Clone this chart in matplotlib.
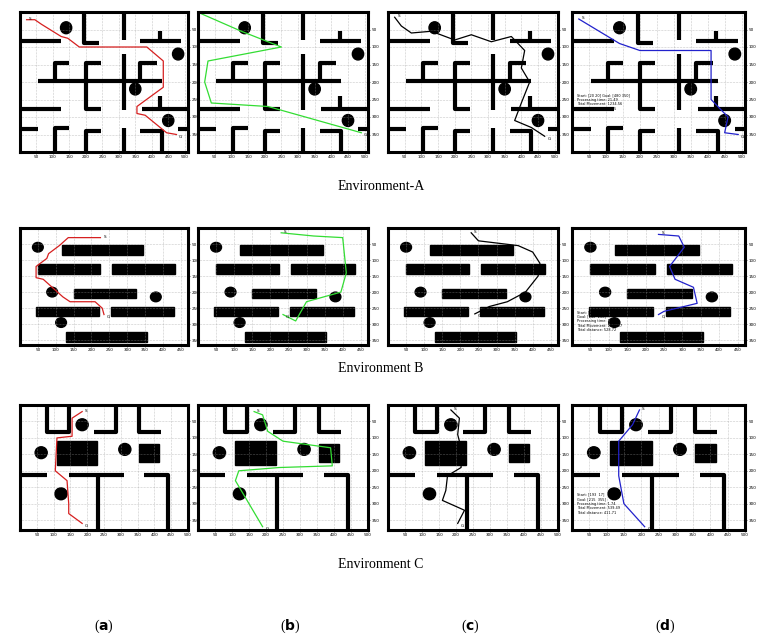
import matplotlib.pyplot as plt
from matplotlib.patches import Circle, Rectangle

# ---- Environment A (maze) ----
walls_a = [
    [(195, 0), (195, 88), (240, 88)], [(315, 0), (315, 80)], [(0, 82), (125, 82)],
    [(425, 55), (425, 84)], [(365, 84), (490, 84)], [(55, 198), (430, 198)],
    [(105, 198), (105, 146), (150, 146)], [(245, 146), (200, 146), (200, 276), (245, 276)],
    [(315, 120), (315, 280)], [(415, 146), (365, 146), (365, 198)],
    [(0, 276), (125, 276)], [(370, 276), (510, 276)], [(425, 240), (425, 276)],
    [(0, 334), (55, 334)], [(105, 400), (105, 330), (150, 330)],
    [(200, 400), (200, 340), (245, 340)], [(315, 330), (315, 400)],
    [(365, 340), (430, 340), (430, 400)], [(480, 334), (510, 334)],
]
circles_a = [(140, 45), (480, 120), (350, 220), (450, 310)]
path_a_a = [(20, 22), (45, 22), (65, 35), (125, 70), (145, 75), (180, 100), (385, 100), (435, 140),
            (435, 215), (355, 270), (355, 290), (380, 295), (445, 345), (475, 350)]
path_a_b = [(10, 5), (130, 55), (250, 100), (30, 140), (20, 200), (40, 260), (210, 270), (490, 345)]
path_a_c = [(20, 15), (40, 40), (70, 60), (130, 55), (200, 80), (250, 65), (310, 85), (370, 70), (410, 110),
            (400, 160), (425, 200), (400, 260), (380, 310), (430, 330), (470, 355)]
path_a_d = [(20, 20), (140, 90), (200, 110), (410, 110), (410, 250), (460, 300), (450, 345), (490, 350)]
info_a = 'Start: [20 20] Goal: [480 350]\nProcessing time: 21.49\nTotal Movement: 1234.56\nTotal distance: 557.25'

# ---- Environment B (bars) ----
rects_b = [(117, 53, 228, 30), (50, 113, 175, 30), (258, 113, 177, 30), (150, 189, 175, 30),
           (45, 246, 175, 30), (255, 246, 175, 30), (130, 325, 225, 30)]
circles_b = [(50, 60), (90, 200), (380, 215), (115, 295)]
path_b_a = [(225, 30), (135, 30), (110, 55), (80, 80), (75, 95), (45, 120), (45, 155), (65, 160), (90, 185),
            (120, 215), (140, 230), (210, 230), (230, 250), (235, 270)]
path_b_b = [(230, 15), (320, 25), (400, 30), (410, 140), (395, 200), (300, 230), (270, 290), (235, 270)]
path_b_c = [(230, 15), (250, 40), (360, 55), (400, 75), (420, 110), (415, 150), (380, 200), (330, 230),
            (280, 245), (240, 268)]
path_b_d = [(235, 20), (290, 25), (305, 60), (265, 120), (280, 160), (330, 185), (340, 235), (250, 260), (235, 270)]
info_b = 'Start: [262  25]\nGoal: [242  266]\nProcessing time: 5.28\nTotal Movement: 1781.67\nTotal distance: 528.72'

# ---- Environment C (rooms) ----
walls_c = [
    [(80, 0), (80, 83), (145, 83), (145, 0)], [(220, 83), (285, 83), (285, 0)],
    [(355, 0), (355, 83), (420, 83)], [(0, 214), (80, 214)], [(145, 214), (310, 214)],
    [(232, 214), (232, 380)], [(370, 214), (440, 214), (440, 380)],
]
rects_c = [(110, 110, 120, 73), (355, 120, 60, 53)]
circles_c = [(185, 60), (63, 145), (312, 135), (122, 270)]
path_c_a = [(185, 20), (155, 40), (155, 95), (110, 100), (105, 200), (140, 230), (145, 300), (145, 330), (185, 360)]
path_c_b = [(165, 20), (190, 30), (205, 80), (250, 110), (390, 130), (395, 185), (240, 190), (120, 200),
            (110, 230), (190, 370)]
path_c_c = [(185, 15), (210, 40), (205, 90), (215, 130), (215, 190), (175, 215), (170, 260), (160, 290),
            (225, 320), (205, 360)]
path_c_d = [(195, 15), (175, 60), (135, 110), (135, 215), (150, 300), (210, 370)]
info_c = 'Start: [193  17]\nGoal: [215  355]\nProcessing time: 1.74\nTotal Movement: 539.49\nTotal distance: 411.71'

colors = ['#d62020', '#33dd33', 'black', '#2222cc']

fig = plt.figure(figsize=(7.62, 6.43), dpi=100)
W, H = 762, 643
cols = [(20, 188), (198, 368), (388, 558), (572, 745)]
rows = [(12, 152), (228, 345), (405, 530)]

envs = [
    dict(xlim=510, ylim=400, walls=walls_a, rects=[], circles=circles_a, rad=17, info=info_a, iy=0.42,
         paths=[path_a_a, path_a_b, path_a_c, path_a_d], xt=range(50, 501, 50), yt=range(50, 351, 50)),
    dict(xlim=470, ylim=365, walls=[], rects=rects_b, circles=circles_b, rad=15, info=info_b, iy=0.3,
         paths=[path_b_a, path_b_b, path_b_c, path_b_d], xt=range(50, 451, 50), yt=range(50, 351, 50)),
    dict(xlim=500, ylim=380, walls=walls_c, rects=rects_c, circles=circles_c, rad=18, info=info_c, iy=0.3,
         paths=[path_c_a, path_c_b, path_c_c, path_c_d], xt=range(50, 501, 50), yt=range(50, 351, 50)),
]

for r, env in enumerate(envs):
    y0, y1 = rows[r]
    for c in range(4):
        x0, x1 = cols[c]
        ax = fig.add_axes([x0 / W, 1 - y1 / H, (x1 - x0) / W, (y1 - y0) / H])
        ax.set_xlim(0, env['xlim'])
        ax.set_ylim(env['ylim'], 0)
        ax.set_xticks(list(env['xt']))
        ax.set_yticks(list(env['yt']))
        ax.tick_params(labelsize=3, length=1.5, width=0.4, pad=1)
        ax.yaxis.tick_right()
        ax.grid(True, ls=':', lw=0.4, color='#999999')
        for s in ax.spines.values():
            s.set_linewidth(2.2)
        for w in env['walls']:
            ax.plot([p[0] for p in w], [p[1] for p in w], color='black', lw=3, solid_capstyle='butt')
        for (rx, ry, rw, rh) in env['rects']:
            ax.add_patch(Rectangle((rx, ry), rw, rh, color='black'))
        for (cx, cy) in env['circles']:
            ax.add_patch(Circle((cx, cy), env['rad'], color='black'))
        p = env['paths'][c]
        ax.plot([q[0] for q in p], [q[1] for q in p], color=colors[c], lw=0.9)
        ax.text(p[0][0] + 8, p[0][1], 'S', fontsize=3)
        ax.text(p[-1][0] + 8, p[-1][1] + 10, 'G', fontsize=3)
        if c == 3:
            ax.text(0.03, env['iy'], env['info'], transform=ax.transAxes, fontsize=2.5, va='top')

serif = 'Liberation Serif'
fig.text(381 / W, 1 - 186 / H, 'Environment-A', ha='center', va='center', fontsize=10, family=serif)
fig.text(381 / W, 1 - 369 / H, 'Environment B', ha='center', va='center', fontsize=10, family=serif)
fig.text(381 / W, 1 - 565 / H, 'Environment C', ha='center', va='center', fontsize=10, family=serif)
for lab, x in zip('abcd', [104, 290, 470, 665]):
    fig.text(x / W, 1 - 626 / H, '(' + r'$\mathbf{' + lab + '}$' + ')', ha='center', va='center',
             fontsize=10, family=serif)

fig.savefig('out.png', dpi=100)
